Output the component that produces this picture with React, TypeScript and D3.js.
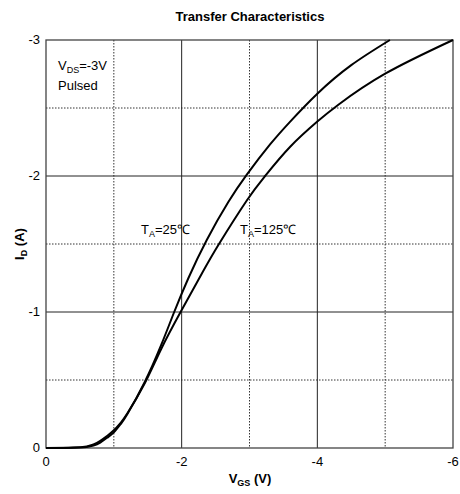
import React from "react";
import * as d3 from "d3";

// Gate-source voltage (V) and drain current (A) samples for each temperature
const vgs25 = [0, -0.4, -0.6, -0.7, -0.8, -0.9, -1.0, -1.1, -1.2, -1.45, -1.7, -1.89, -2.1, -2.37, -2.69, -2.96, -3.3, -3.6, -4.0, -4.5, -5.07];
const id25 = [0, -0.002, -0.008, -0.018, -0.04, -0.075, -0.115, -0.175, -0.25, -0.48, -0.76, -1.0, -1.25, -1.53, -1.81, -2.01, -2.23, -2.4, -2.605, -2.815, -3.0];
const vgs125 = [0, -0.4, -0.6, -0.7, -0.8, -0.9, -1.0, -1.1, -1.2, -1.45, -1.7, -1.99, -2.3, -2.55, -2.96, -3.23, -3.6, -4.0, -4.31, -5.0, -6.0];
const id125 = [0, -0.003, -0.012, -0.026, -0.052, -0.088, -0.13, -0.185, -0.255, -0.47, -0.73, -1.005, -1.285, -1.5, -1.82, -2.0, -2.215, -2.4, -2.524, -2.752, -3.0];

const xTicks = [0, -2, -4, -6];
const xMinor = [-1, -3, -5];
const yTicks = [0, -1, -2, -3];
const yMinor = [-0.5, -1.5, -2.5];

const W = 460;
const H = 494;
const L = 46, R = 453, T = 40, B = 448;

export default function App() {
  const x = d3.scaleLinear().domain([0, -6]).range([L, R]);
  const y = d3.scaleLinear().domain([0, -3]).range([B, T]);
  const line = d3
    .line<[number, number]>()
    .x((d) => x(d[0]))
    .y((d) => y(d[1]))
    .curve(d3.curveNatural);
  const s25 = vgs25.map((v, i) => [v, id25[i]] as [number, number]);
  const s125 = vgs125.map((v, i) => [v, id125[i]] as [number, number]);
  const font = "Arial, 'Liberation Sans', Helvetica, sans-serif";

  return (
    <svg
      width={W}
      height={H}
      style={{ position: "absolute", left: 0, top: 0, background: "#fff" }}
      fontFamily={font}
    >
      <rect x={0} y={0} width={W} height={H} fill="#fff" />
      <text x={250} y={21} textAnchor="middle" fontSize={13} fontWeight="bold">
        Transfer Characteristics
      </text>

      {/* dotted minor grid */}
      {xMinor.map((v) => (
        <line key={"xm" + v} x1={x(v)} x2={x(v)} y1={T} y2={B} stroke="#333" strokeWidth={1} strokeDasharray="1.5,1.5" />
      ))}
      {yMinor.map((v) => (
        <line key={"ym" + v} x1={L} x2={R} y1={y(v)} y2={y(v)} stroke="#333" strokeWidth={1} strokeDasharray="1.5,1.5" />
      ))}
      {/* solid major grid */}
      {xTicks.slice(1, -1).map((v) => (
        <line key={"xg" + v} x1={x(v)} x2={x(v)} y1={T} y2={B} stroke="#222" strokeWidth={1} />
      ))}
      {yTicks.slice(1, -1).map((v) => (
        <line key={"yg" + v} x1={L} x2={R} y1={y(v)} y2={y(v)} stroke="#222" strokeWidth={1} />
      ))}

      <rect x={L} y={T} width={R - L} height={B - T} fill="none" stroke="#444" strokeWidth={1.3} />

      <path d={line(s125) ?? ""} fill="none" stroke="#000" strokeWidth={2} />
      <path d={line(s25) ?? ""} fill="none" stroke="#000" strokeWidth={2} />

      {/* tick labels */}
      {xTicks.map((v) => (
        <text key={"xl" + v} x={x(v)} y={B + 18} textAnchor="middle" fontSize={13}>
          {v === 0 ? "0" : String(v)}
        </text>
      ))}
      {yTicks.map((v) => (
        <text key={"yl" + v} x={L - 6} y={y(v) + 4} textAnchor="end" fontSize={13}>
          {v === 0 ? "0" : String(v)}
        </text>
      ))}

      {/* axis titles */}
      <text x={250} y={483} textAnchor="middle" fontSize={13} fontWeight="bold">
        V<tspan fontSize={9} dy={3}>GS</tspan>
        <tspan dy={-3}> (V)</tspan>
      </text>
      <text transform={`translate(24,${(T + B) / 2}) rotate(-90)`} textAnchor="middle" fontSize={13} fontWeight="bold">
        I<tspan fontSize={9} dy={3}>D</tspan>
        <tspan dy={-3}> (A)</tspan>
      </text>

      {/* annotations */}
      <text x={58} y={70} fontSize={13}>
        V<tspan fontSize={9} dy={3}>DS</tspan>
        <tspan dy={-3}>=-3V</tspan>
      </text>
      <text x={58} y={90} fontSize={13}>Pulsed</text>
      <text x={141} y={234} fontSize={13}>
        T<tspan fontSize={9} dy={3}>A</tspan>
        <tspan dy={-3}>=25℃</tspan>
      </text>
      <text x={240} y={234} fontSize={13}>
        T<tspan fontSize={9} dy={3}>A</tspan>
        <tspan dy={-3}>=125℃</tspan>
      </text>
    </svg>
  );
}
